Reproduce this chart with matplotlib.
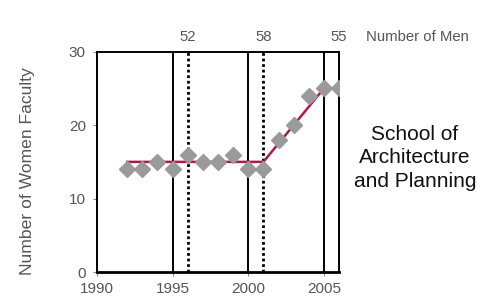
import matplotlib.pyplot as plt

plt.rcParams['font.family'] = ['Liberation Sans', 'DejaVu Sans']

# data
years = [1992, 1993, 1994, 1995, 1996, 1997, 1998, 1999, 2000, 2001, 2002, 2003, 2004, 2005, 2006]
women = [14, 14, 15, 14, 16, 15, 15, 16, 14, 14, 18, 20, 24, 25, 25]
trend_years = [1992, 2001, 2005, 2006]
trend_vals = [15, 15, 25, 25]
solid_years = [1995, 2000, 2005]
dotted_years = [1996, 2001]
men_years = [1996, 2001, 2006]
men_counts = ['52', '58', '55']

fig = plt.figure(figsize=(4.83, 3.06), dpi=100)
ax = fig.add_axes([0.2008, 0.111, 0.5011, 0.720])

grey = '#555555'

# vertical reference lines
for yr in solid_years:
    ax.axvline(yr, color='black', lw=1.4, zorder=1)
for yr in dotted_years:
    ax.axvline(yr, color='black', lw=2, ls=(0, (1, 1)), zorder=1)

# trend line and points
ax.plot(trend_years, trend_vals, color='#b0174f', lw=1.8, zorder=2)
ax.plot(years, women, ls='none', marker='D', ms=8.5, color='#9a9a9a',
        markeredgecolor='#9a9a9a', zorder=3)

ax.set_xlim(1990, 2006)
ax.set_ylim(0, 30)
ax.set_xticks([1990, 1995, 2000, 2005])
ax.set_yticks([0, 10, 20, 30])

for s in ax.spines.values():
    s.set_linewidth(1.4)
    s.set_color('black')
ax.spines['bottom'].set_linewidth(2)

ax.tick_params(axis='both', colors='#888888', labelcolor=grey, labelsize=11,
               length=3, width=0.8)
ax.tick_params(axis='x', pad=4)
ax.tick_params(axis='y', pad=5)
ax.set_ylabel('Number of Women Faculty', color=grey, fontsize=12.6)
ax.yaxis.set_label_coords(-0.258, 0.456)

# number of men labels along the top
for yr, n in zip(men_years, men_counts):
    ax.text(yr, 32, n, ha='center', va='center', fontsize=10.7, color=grey,
            clip_on=False)
ax.text(2007.8, 32, 'Number of Men', ha='left', va='center', fontsize=10.7,
        color=grey, clip_on=False)

fig.text(0.859, 0.484, 'School of\nArchitecture\nand Planning', ha='center',
         va='center', fontsize=15, color='#111111', linespacing=1.32)

fig.savefig('out.png', dpi=100)
